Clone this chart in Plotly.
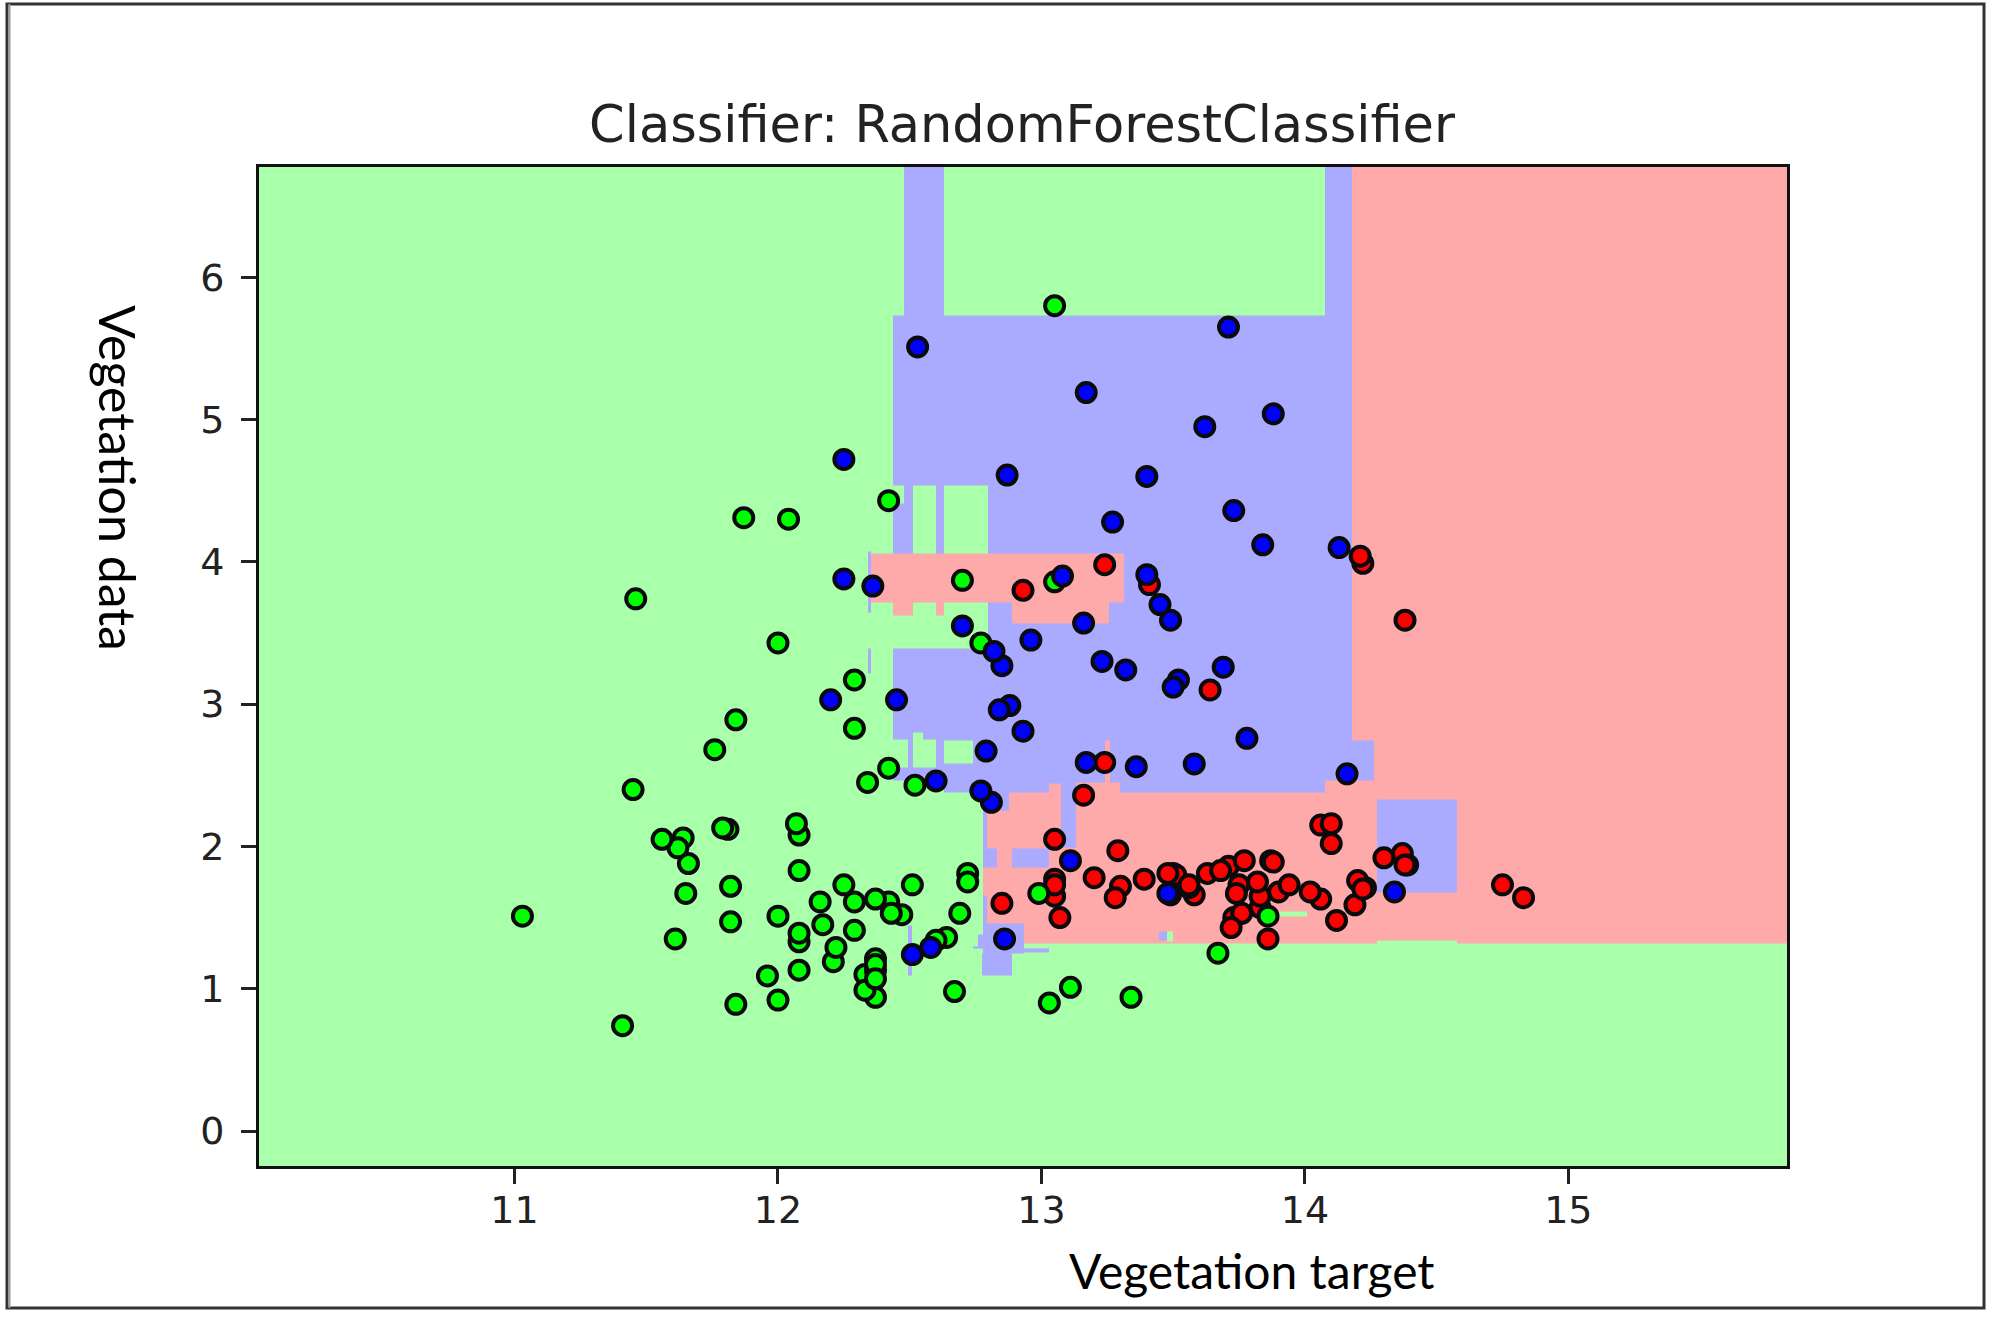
import plotly.graph_objs as go

title_text = "Classifier: RandomForestClassifier"
x_label = "Vegetation target"
y_label = "Vegetation data"

x_ticks = [11, 12, 13, 14, 15]
y_ticks = [0, 1, 2, 3, 4, 5, 6]
x_range = [10.03, 15.83]
y_range = [-0.246, 6.775]

red_x = [14.23, 13.2, 13.16, 14.37, 13.24, 14.2, 14.39, 14.06, 14.83, 13.86, 14.1, 14.12, 13.75, 14.75, 14.38,
         13.63, 14.3, 13.83, 14.19, 13.64, 14.06, 12.93, 13.71, 12.85, 13.5, 13.05, 13.39, 13.3, 13.87, 14.02,
         13.73, 13.58, 13.68, 13.76, 13.51, 13.48, 13.28, 13.05, 13.07, 14.22, 13.56, 13.41, 13.88, 13.24, 13.05,
         14.21, 14.38, 13.9, 14.1, 13.94, 13.05, 13.83, 13.82, 13.77, 13.74, 13.56, 14.22, 13.29, 13.72]
red_y = [1.71, 1.78, 2.36, 1.95, 2.59, 1.76, 1.87, 2.15, 1.64, 1.35, 2.16, 1.48, 1.73, 1.73, 1.87,
         1.81, 1.92, 1.57, 1.59, 3.1, 1.63, 3.8, 1.86, 1.6, 1.81, 2.05, 1.77, 1.72, 1.9, 1.68,
         1.5, 1.66, 1.83, 1.53, 1.8, 1.81, 1.64, 1.65, 1.5, 3.99, 1.71, 3.84, 1.89, 3.98, 1.77,
         4.04, 3.59, 1.68, 2.02, 1.73, 1.73, 1.65, 1.75, 1.9, 1.67, 1.73, 1.7, 1.97, 1.43]

green_x = [12.37, 12.33, 12.64, 13.67, 12.37, 12.17, 12.37, 13.11, 12.37, 13.34, 12.21, 12.29, 13.86, 13.49, 12.99,
           11.96, 11.66, 13.03, 11.84, 12.33, 12.7, 12.0, 12.72, 12.08, 13.05, 11.84, 12.67, 12.16, 11.65, 11.64,
           12.08, 12.08, 12.0, 12.69, 12.29, 11.62, 12.47, 11.81, 12.29, 12.37, 12.29, 12.08, 12.6, 12.34, 11.82,
           12.51, 12.42, 12.25, 12.72, 12.22, 11.61, 11.46, 12.52, 11.76, 11.41, 12.08, 11.03, 11.82, 12.42, 12.77,
           12.0, 11.45, 11.56, 12.42, 13.05, 11.87, 12.07, 12.43, 11.79, 12.37, 12.04]
green_y = [0.94, 1.1, 1.36, 1.25, 1.13, 1.45, 1.21, 1.01, 1.17, 0.94, 1.19, 1.61, 1.51, 1.66, 1.67,
           1.09, 1.88, 0.9, 2.89, 0.99, 3.87, 0.92, 1.81, 1.13, 3.86, 0.89, 0.98, 1.61, 1.67, 2.06,
           1.33, 1.83, 1.51, 1.53, 2.83, 1.99, 1.52, 2.12, 1.41, 1.07, 3.17, 2.08, 1.34, 2.45, 1.72,
           1.73, 2.55, 1.73, 1.75, 1.29, 1.35, 3.74, 2.43, 2.68, 0.74, 1.39, 1.51, 1.47, 1.61, 3.43,
           3.43, 2.4, 2.05, 4.43, 5.8, 4.31, 2.16, 1.53, 2.13, 1.63, 4.3]

blue_x = [12.86, 12.88, 12.81, 12.7, 12.51, 12.6, 12.25, 12.53, 13.49, 12.84, 12.93, 13.36, 13.52, 13.62, 12.25,
          13.16, 13.88, 12.87, 13.32, 13.08, 13.5, 12.79, 13.11, 13.23, 12.58, 13.17, 13.84, 12.45, 14.34, 13.48,
          12.36, 13.69, 12.85, 12.96, 13.78, 13.73, 13.45, 12.82, 13.58, 13.4, 12.2, 12.77, 14.16, 13.71, 13.4,
          13.27, 13.17, 14.13]
blue_y = [1.35, 2.99, 2.31, 3.55, 1.24, 2.46, 4.72, 5.51, 3.59, 2.96, 2.81, 2.56, 3.17, 4.95, 3.88,
          3.57, 5.04, 4.61, 3.24, 3.9, 3.12, 2.67, 1.9, 3.3, 1.29, 5.19, 4.12, 3.03, 1.68, 1.67,
          3.83, 3.26, 3.27, 3.45, 2.76, 4.36, 3.7, 3.37, 2.58, 4.6, 3.03, 2.39, 2.51, 5.65, 3.91,
          4.28, 2.59, 4.1]

# decision surface: (class, x0, x1, y0, y1), later entries paint over earlier ones
# class 0 red, 1 green (also the background), 2 blue
decision_regions = [
    (0, 14.179, 15.83, 1.315, 6.80),
    (2, 12.435, 14.179, 2.377, 5.731),
    (2, 12.479, 12.631, 5.731, 6.80),
    (2, 14.076, 14.179, 5.731, 6.80),
    (2, 14.179, 14.262, 2.461, 2.743),
    (1, 12.435, 12.479, 4.409, 4.536),
    (1, 12.513, 12.601, 4.058, 4.536),
    (1, 12.631, 12.798, 4.058, 4.536),
    (1, 12.435, 12.798, 3.39, 4.058),
    (1, 12.435, 12.494, 2.553, 2.75),
    (1, 12.513, 12.601, 2.553, 2.75),
    (1, 12.513, 12.55, 2.75, 2.80),
    (1, 12.631, 12.741, 2.581, 2.743),
    (1, 12.435, 12.631, 2.377, 2.461),
    (0, 12.354, 13.312, 3.713, 4.058),
    (0, 12.435, 12.513, 3.622, 3.713),
    (0, 12.601, 12.631, 3.622, 3.713),
    (0, 12.89, 13.255, 3.565, 3.713),
    (2, 12.342, 12.354, 3.713, 4.07),
    (2, 12.342, 12.354, 3.643, 3.713),
    (2, 12.342, 12.354, 3.214, 3.39),
    (0, 12.795, 14.179, 1.315, 2.377),
    (2, 12.795, 12.875, 2.25, 2.377),
    (0, 13.03, 13.076, 2.377, 2.44),
    (0, 13.133, 13.30, 2.377, 2.45),
    (0, 13.24, 13.259, 2.45, 2.743),
    (0, 14.076, 14.179, 2.377, 2.461),
    (2, 13.076, 13.133, 1.99, 2.45),
    (2, 12.779, 12.795, 1.85, 2.30),
    (0, 12.779, 12.795, 1.653, 1.85),
    (2, 12.779, 12.795, 1.456, 1.653),
    (2, 12.795, 12.833, 1.85, 1.983),
    (2, 12.89, 13.03, 1.85, 1.983),
    (2, 12.779, 12.935, 1.245, 1.456),
    (2, 12.776, 12.89, 1.09, 1.245),
    (2, 12.741, 12.779, 1.28, 1.30),
    (2, 12.76, 12.779, 1.28, 1.38),
    (2, 12.935, 13.03, 1.252, 1.28),
    (2, 12.494, 12.51, 1.09, 1.442),
    (2, 14.274, 14.578, 1.674, 2.328),
    (2, 13.445, 13.475, 1.336, 1.406),
    (1, 13.475, 13.498, 1.33, 1.406),
    (1, 13.897, 14.008, 1.505, 1.54),
    (1, 14.274, 14.578, 1.315, 1.336),
]

WIDTH = 2000
HEIGHT = 1339


def build_surface():
    xs = sorted({x_range[0], x_range[1]} | {v for r in decision_regions for v in r[1:3]})
    ys = sorted({y_range[0], 6.80} | {v for r in decision_regions for v in r[3:5]})
    z = [[1] * (len(xs) - 1) for _ in range(len(ys) - 1)]
    for cls, x0, x1, y0, y1 in decision_regions:
        for j in range(len(ys) - 1):
            if y0 <= ys[j] and ys[j + 1] <= y1:
                for i in range(len(xs) - 1):
                    if x0 <= xs[i] and xs[i + 1] <= x1:
                        z[j][i] = cls
    return xs, ys, z


def points(x, y, color):
    return go.Scatter(
        x=x,
        y=y,
        mode="markers",
        marker=dict(color=color, size=19, line=dict(color="#0a0a0a", width=4)),
        hoverinfo="skip",
    )


xs, ys, z = build_surface()

surface = go.Heatmap(
    x=xs,
    y=ys,
    z=z,
    zmin=0,
    zmax=2,
    colorscale=[[0, "#FFAAAA"], [0.5, "#AAFFAA"], [1, "#AAAAFF"]],
    showscale=False,
    hoverinfo="skip",
)

axis_style = dict(
    showgrid=False,
    zeroline=False,
    showline=True,
    mirror=True,
    linecolor="#111111",
    linewidth=3,
    ticks="outside",
    ticklen=15,
    tickwidth=3,
    tickcolor="#222222",
    tickfont=dict(family="DejaVu Sans", size=38, color="#222222"),
)

layout = go.Layout(
    width=WIDTH,
    height=HEIGHT,
    margin=dict(l=0, r=0, t=0, b=0),
    paper_bgcolor="white",
    plot_bgcolor="white",
    showlegend=False,
    title=dict(
        text=title_text,
        x=1022 / WIDTH,
        xanchor="center",
        y=1 - 124 / HEIGHT,
        yanchor="middle",
        font=dict(family="DejaVu Sans", size=51, color="#222222"),
    ),
    xaxis=dict(axis_style, range=x_range, tickvals=x_ticks, domain=[259 / WIDTH, 1787 / WIDTH], ticklabelstandoff=-7),
    yaxis=dict(axis_style, range=y_range, tickvals=y_ticks, domain=[1 - 1166 / HEIGHT, 1 - 167 / HEIGHT], ticklabelstandoff=9),
    annotations=[
        dict(
            text=x_label,
            xref="paper",
            yref="paper",
            x=1252 / WIDTH,
            y=1 - 1270 / HEIGHT,
            xanchor="center",
            yanchor="middle",
            showarrow=False,
            font=dict(family="Lato", size=48, color="black"),
        ),
        dict(
            text=y_label,
            xref="paper",
            yref="paper",
            x=118 / WIDTH,
            y=1 - 478 / HEIGHT,
            xanchor="center",
            yanchor="middle",
            textangle=90,
            showarrow=False,
            font=dict(family="Lato", size=50, color="black"),
        ),
    ],
    shapes=[
        dict(
            type="rect",
            xref="paper",
            yref="paper",
            x0=7 / WIDTH,
            x1=1984 / WIDTH,
            y0=1 - 1308 / HEIGHT,
            y1=1 - 4 / HEIGHT,
            line=dict(color="#333333", width=3),
        ),
        dict(
            type="line",
            xref="paper",
            yref="paper",
            x0=9.5 / WIDTH,
            x1=9.5 / WIDTH,
            y0=1 - 1308 / HEIGHT,
            y1=1 - 4 / HEIGHT,
            line=dict(color="#999999", width=2),
        ),
    ],
)

fig = go.Figure(
    data=[surface, points(red_x, red_y, "#FF0000"), points(green_x, green_y, "#00FF00"), points(blue_x, blue_y, "#0000FF")],
    layout=layout,
)

fig.write_html(
    "out.html",
    config=dict(displayModeBar=False),
    post_script="document.body.style.margin='0';document.body.style.overflow='hidden';",
)
